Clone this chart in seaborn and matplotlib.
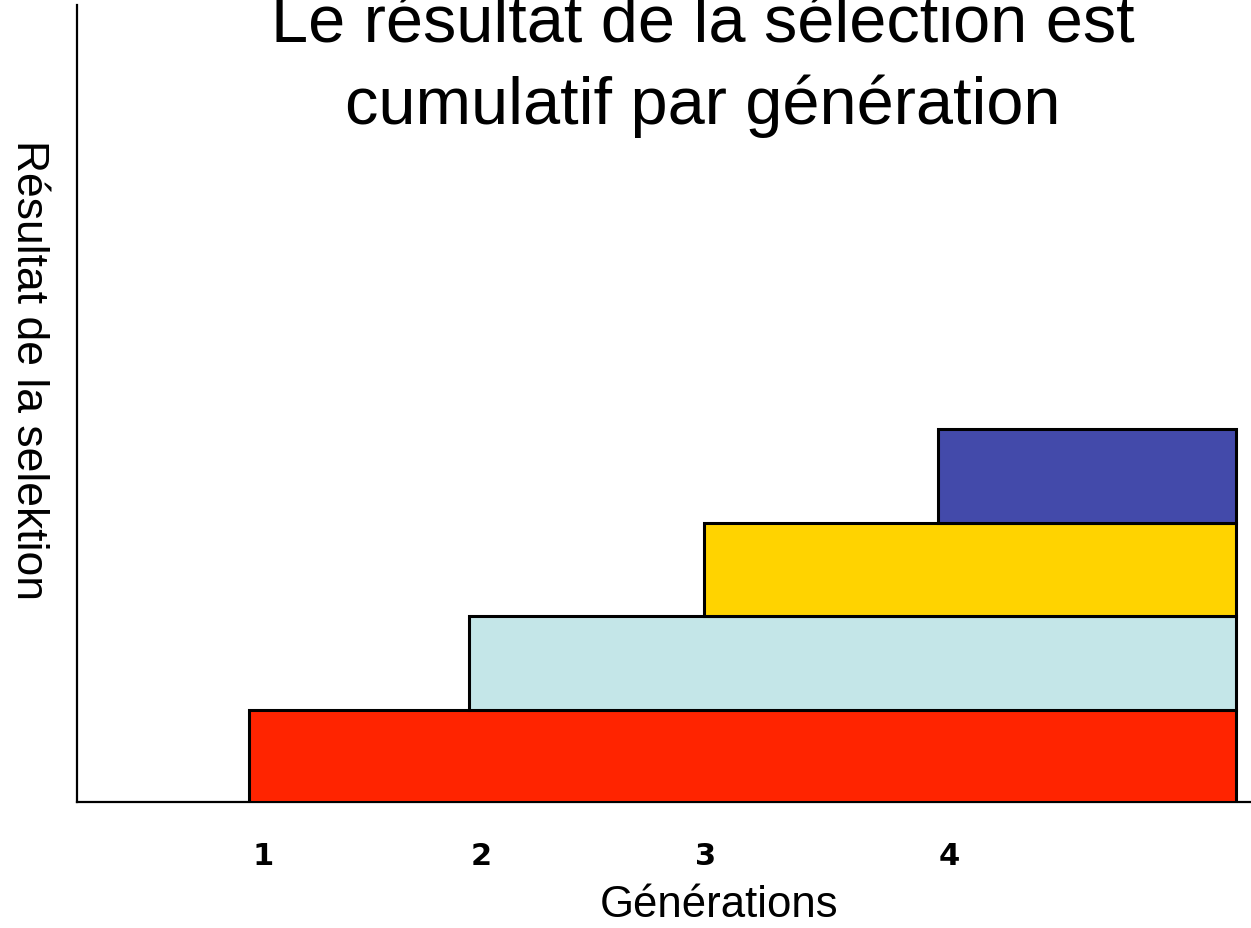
import matplotlib
matplotlib.use("Agg")
import matplotlib.pyplot as plt
import seaborn as sns

# Generation at which each selection step starts, and the common end point
generations = ["1", "2", "3", "4"]
tick_pos = [1.06, 2.01, 2.99, 4.05]
bar_start = [1.0, 1.96, 2.98, 4.0]
bar_end = 5.3
# Gain contributed by each generation (stacked levels)
gain = [0.98, 1, 1, 1]
colors = ["#FF2400", "#C4E6E8", "#FFD300", "#434AAA"]

sns.set_theme(style="white")
plt.rcParams["font.family"] = ["Liberation Sans", "DejaVu Sans"]
plt.rcParams["text.color"] = "black"
plt.rcParams["xtick.color"] = "black"

fig = plt.figure(figsize=(12.51, 9.29), dpi=100)
ax = fig.add_axes([0.0616, 0.1356, 0.95, 0.858])

bottom = 0.0
for left, h, c in zip(bar_start, gain, colors):
    ax.barh(bottom, bar_end - left, left=left, height=h, align="edge",
            color=c, edgecolor="black", linewidth=2.2, zorder=3)
    bottom += h

ax.set_xlim(0.251, 5.427)
ax.set_ylim(0, 8.5)
ax.set_yticks([])
ax.set_xticks(tick_pos)
ax.set_xticklabels(generations, fontsize=22, fontweight="bold",
                   family=["DejaVu Sans"], color="black")
ax.tick_params(axis="x", length=0, pad=28)

for side in ["top", "right"]:
    ax.spines[side].set_visible(False)
for side in ["left", "bottom"]:
    ax.spines[side].set_color("black")
    ax.spines[side].set_linewidth(1.6)

fig.text(0.575, 0.0129, "Générations", fontsize=31.5, ha="center",
         va="baseline", color="black")
fig.text(0.0225, 0.602, "Résultat de la selektion", rotation=-90,
         fontsize=32, ha="center", va="center", color="black")

fig.text(0.562, 0.866, "Le résultat de la sélection est\ncumulatif par génération",
         fontsize=48, ha="center", va="baseline", linespacing=1.37,
         color="black")

fig.savefig("out.png", dpi=100)
